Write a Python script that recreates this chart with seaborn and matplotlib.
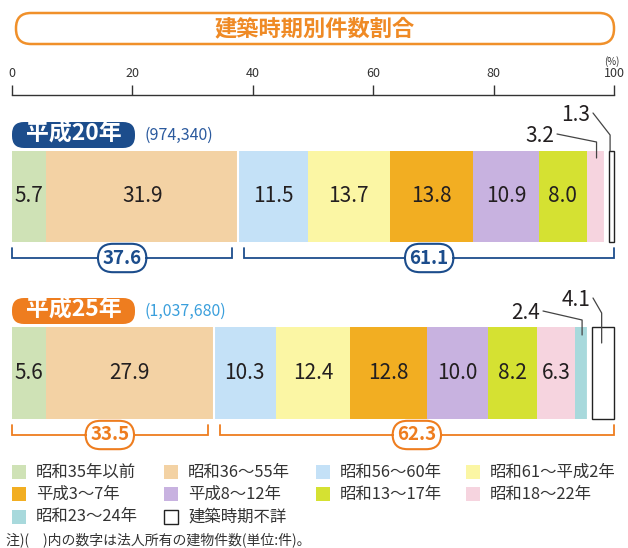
import matplotlib
matplotlib.use("Agg")
import matplotlib.pyplot as plt
from matplotlib.patches import FancyBboxPatch, Rectangle
import seaborn as sns
import numpy as np

# ---------------- data ----------------
categories = ["昭和35年以前", "昭和36〜55年", "昭和56〜60年", "昭和61〜平成2年",
              "平成3〜7年", "平成8〜12年", "昭和13〜17年", "昭和18〜22年",
              "昭和23〜24年", "建築時期不詳"]
years = ["平成20年", "平成25年"]
counts = ["(974,340)", "(1,037,680)"]
h20_values = [5.7, 31.9, 11.5, 13.7, 13.8, 10.9, 8.0, 3.2, 0.0, 1.3]
h25_values = [5.6, 27.9, 10.3, 12.4, 12.8, 10.0, 8.2, 6.3, 2.4, 4.1]
group_old = [37.6, 33.5]
group_new = [61.1, 62.3]
ticks = [0, 20, 40, 60, 80, 100]
title = "建築時期別件数割合"
note = "注)(　)内の数字は法人所有の建物件数(単位:件)。"

# ---------------- style ----------------
bar_colors = ["#cfe2b6", "#f3d2a4", "#c4e1f7", "#fbf6a4", "#f2ae22",
              "#c8b2e0", "#d5e132", "#f6d4df", "#a8d9dc", "#ffffff"]
theme_colors = ["#1c4d8c", "#ee7d1f"]
count_colors = ["#2b5a9e", "#3a9fdc"]
row_center = [196.5, 373.0]
row_height = [91, 92]

sns.set_theme(style="white")
plt.rcParams['font.family'] = ['Noto Sans CJK JP', 'DejaVu Sans']

W, H = 628, 548
fig = plt.figure(figsize=(W / 100, H / 100), dpi=100)
fig.patch.set_facecolor("white")

bg = fig.add_axes([0, 0, 1, 1])
bg.set_xlim(0, W)
bg.set_ylim(H, 0)
bg.axis("off")

X0, X1 = 12, 614
ax = fig.add_axes([X0 / W, 0, (X1 - X0) / W, 1])
ax.set_xlim(0, 100)
ax.set_ylim(H, 0)
ax.axis("off")
ax.patch.set_visible(False)


def px2pct(px):
    return (px - X0) / (X1 - X0) * 100


# title box
bg.add_patch(FancyBboxPatch((16, 13), 598, 31,
                            boxstyle="round,pad=0,rounding_size=15",
                            fc="white", ec="#f0902a", lw=1.8))
bg.text(315, 28.5, title, color="#ef8a25", fontsize=16, fontweight="bold",
        ha="center", va="center")

# scale axis
axs = fig.add_axes([X0 / W, 1 - 95 / H, (X1 - X0) / W, 1e-6])
axs.set_xlim(0, 100)
axs.set_xticks(ticks)
axs.set_xticklabels([str(t) for t in ticks])
axs.set_yticks([])
for s in ["left", "right", "bottom"]:
    axs.spines[s].set_visible(False)
axs.spines["top"].set_color("#333333")
axs.spines["top"].set_linewidth(1)
axs.xaxis.tick_top()
axs.tick_params(axis="x", direction="out", length=7.5, width=1, color="#333333",
                labelsize=9, pad=3, labelcolor="#333333")
axs.patch.set_visible(False)
bg.text(612, 62, "(%)", fontsize=7, ha="center", va="center", color="#333333")

# external label layout: (category index, text right px, text y, elbow y, end y)
ext_layout = {
    0: [(7, 554, 136, 142, 158), (9, 590, 115, 135, 151)],
    1: [(8, 540, 313, 320, 335), (9, 590, 300, 313, 343)],
}

for r, (year, cnt, vals) in enumerate(zip(years, counts, [h20_values, h25_values])):
    yc = row_center[r]
    h = row_height[r]
    top, bot = yc - h / 2, yc + h / 2
    theme = theme_colors[r]
    vals = np.array(vals)
    lefts = np.concatenate([[0], np.cumsum(vals)[:-1]])
    n = len(vals)
    centers = {}
    for i, (v, l) in enumerate(zip(vals, lefts)):
        if v <= 0:
            continue
        last = i == n - 1
        if last:
            ax.barh(yc, v - 0.45, left=l + 0.4, height=h, color=bar_colors[i],
                    edgecolor="#222222", linewidth=1, zorder=4, clip_on=False)
        else:
            ax.barh(yc, v, left=l, height=h, color=bar_colors[i],
                    edgecolor="none", linewidth=0, zorder=2, clip_on=False)
        centers[i] = l + v / 2
        if v >= 5 and not last:
            ax.text(l + v / 2, yc, f"{v:.1f}", ha="center", va="center",
                    fontsize=15, color="#231f20", zorder=5)
    # separators
    ax.vlines(lefts[2], top, bot, colors="white", lw=1.5, zorder=3)
    ax.vlines(lefts[-1], top, bot, colors="white", lw=3, zorder=3)

    # badge
    bg.add_patch(FancyBboxPatch((12, top - 29), 123, 26,
                                boxstyle="round,pad=0,rounding_size=12",
                                fc=theme, ec="none"))
    bg.text(73.5, top - 16.5, year, color="white", fontsize=16.5,
            fontweight="bold", ha="center", va="center")
    bg.text(145, top - 16, cnt, color=count_colors[r], fontsize=11.5,
            ha="left", va="center")

    # brackets
    yl, yt = bot + 16, bot + 6
    bounds = [(0, group_old[r]), (group_old[r], 100)]
    for (a, b), val in zip(bounds, [group_old[r], group_new[r]]):
        a2 = a + (1.0 if a > 0 else 0)
        b2 = b - (1.0 if b < 100 else 0)
        ax.plot([a2, a2, b2, b2], [yt, yl, yl, yt], color=theme, lw=1.3,
                zorder=2, solid_joinstyle="miter", clip_on=False)
        ax.text((a2 + b2) / 2, yl, f"{val:.1f}", ha="center", va="center",
                fontsize=13.5, fontweight="bold", color=theme, zorder=5,
                bbox=dict(boxstyle="round,pad=0.25,rounding_size=0.8",
                          fc="white", ec=theme, lw=1.5))

    # external labels with leader lines
    for (i, tx, ty, ey, endy) in ext_layout[r]:
        cx = centers[i]
        ax.text(px2pct(tx), ty, f"{vals[i]:.1f}", ha="right", va="center",
                fontsize=15, color="#231f20", zorder=5)
        ax.plot([px2pct(tx + 3), cx, cx], [ty - 2, ey, endy], color="#444444",
                lw=0.9, zorder=6, clip_on=False)

# legend (manual, row-major as in the reference)
leg_x = [12, 164, 316, 466]
leg_y = [472, 494, 517]
for i, (lab, col) in enumerate(zip(categories, bar_colors)):
    rr, cc = divmod(i, 4)
    x, y = leg_x[cc], leg_y[rr]
    bg.add_patch(Rectangle((x, y - 7), 14, 14, fc=col,
                           ec="#222222" if col == "#ffffff" else "none", lw=1))
    bg.text(x + 24, y, lab, fontsize=11.8, ha="left", va="center", color="#333333")

bg.text(6, 540, note, fontsize=10, ha="left", va="center", color="#333333")

fig.savefig("out.png", dpi=100, facecolor="white")
